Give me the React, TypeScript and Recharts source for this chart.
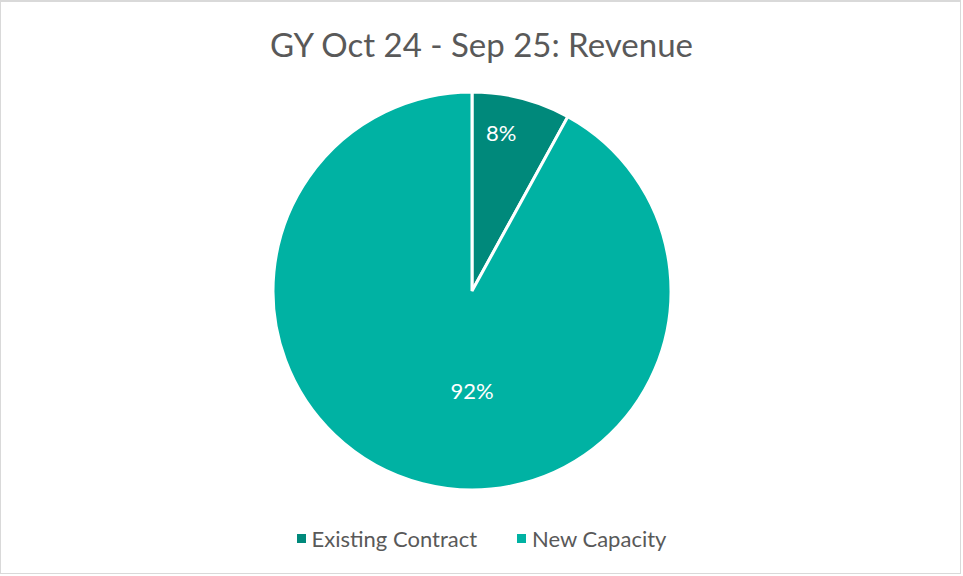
import { PieChart, Pie, Cell, Legend } from 'recharts'

const categories = ['Existing Contract', 'New Capacity']
const revenueShare = [8, 92]
const sliceColors = ['#00897B', '#00B2A3']

const data = categories.map((name, i) => ({ name, value: revenueShare[i] }))

const RADIAN = Math.PI / 180

const renderLabel = (props: any) => {
    const { cx, cy, midAngle, outerRadius, percent } = props
    let x: number
    let y: number
    if (percent > 0.5) {
        // big slice: excel drops the label down the middle
        x = cx
        y = cy + outerRadius * 0.5
    } else {
        const r = outerRadius * 0.81
        x = cx + r * Math.cos(-(midAngle + 4) * RADIAN)
        y = cy + r * Math.sin(-(midAngle + 4) * RADIAN)
    }
    return (
        <text x={x} y={y} fill="#fff" fontSize={22} textAnchor="middle" dominantBaseline="central">
            {`${Math.round(percent * 100)}%`}
        </text>
    )
}

const renderLegend = () => (
    <div style={{ display: 'flex', justifyContent: 'center', gap: 40, fontSize: 22, color: '#595959' }}>
        {categories.map((c, i) => (
            <span key={c} style={{ display: 'flex', alignItems: 'center' }}>
                <span style={{ width: 9, height: 9, background: sliceColors[i], marginRight: 6, display: 'inline-block' }} />
                {c}
            </span>
        ))}
    </div>
)

const App = () => (
    <div style={{ position: 'absolute', left: 0, top: 0, width: 963, height: 576, background: '#fff', fontFamily: 'Lato, sans-serif' }}>
        <div style={{ position: 'absolute', left: 0, top: 0, width: 961, height: 574, border: '1px solid #d9d9d9', borderTopWidth: 2, boxSizing: 'border-box' }} />
        <div style={{ position: 'absolute', top: 24, width: 963, textAlign: 'center', fontSize: 33, color: '#595959' }}>
            GY Oct 24 - Sep 25: Revenue
        </div>
        <PieChart width={963} height={576} margin={{ top: 0, right: 0, bottom: 0, left: 0 }}>
            <Pie
                data={data}
                dataKey="value"
                nameKey="name"
                cx={472}
                cy={291}
                outerRadius={199}
                startAngle={90}
                endAngle={-270}
                stroke="#fff"
                strokeWidth={3}
                label={renderLabel}
                labelLine={false}
                isAnimationActive={false}
            >
                {data.map((d, i) => (
                    <Cell key={d.name} fill={sliceColors[i]} />
                ))}
            </Pie>
            <Legend content={renderLegend} verticalAlign="bottom" wrapperStyle={{ top: 525, left: 0, width: 963 }} />
        </PieChart>
    </div>
)

export default App
